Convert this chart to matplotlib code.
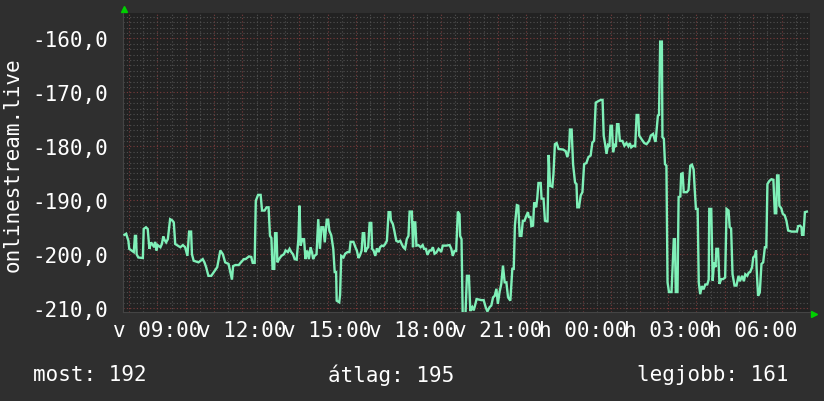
import matplotlib
matplotlib.use("Agg")
import matplotlib.pyplot as plt
from matplotlib.ticker import MultipleLocator, FuncFormatter

# time in hours since sunday 00:00
hours = [7.84, 7.90, 7.98, 8.01, 8.17, 8.21, 8.25, 8.27, 8.33, 8.49, 8.52, 8.60, 8.66, 8.72, 8.78,
         8.89, 8.92, 8.97, 9.01, 9.11, 9.16, 9.21, 9.26, 9.31, 9.37, 9.45, 9.52, 9.58, 9.63, 9.72,
         9.81, 9.90, 9.98, 10.06, 10.12, 10.19, 10.22, 10.28, 10.45, 10.60, 10.66, 10.72, 10.80, 10.90,
         10.99, 11.11, 11.22, 11.31, 11.39, 11.51, 11.63, 11.67, 11.75, 11.87, 11.93, 12.05, 12.11,
         12.23, 12.31, 12.36, 12.43, 12.47, 12.55, 12.64, 12.69, 12.78, 12.85, 12.92, 12.97, 13.02,
         13.06, 13.12, 13.15, 13.20, 13.23, 13.29, 13.37, 13.46, 13.52, 13.60, 13.66, 13.72, 13.78,
         13.84, 13.91, 13.97, 14.01, 14.05, 14.11, 14.17, 14.22, 14.28, 14.34, 14.40, 14.46, 14.49,
         14.54, 14.61, 14.67, 14.73, 14.78, 14.85, 14.90, 14.97, 15.02, 15.06, 15.13, 15.20, 15.25,
         15.30, 15.32, 15.41, 15.44, 15.48, 15.56, 15.62, 15.70, 15.77, 15.81, 15.91, 15.98, 16.03,
         16.09, 16.14, 16.20, 16.24, 16.29, 16.33, 16.38, 16.43, 16.48, 16.54, 16.57, 16.62, 16.68,
         16.74, 16.80, 16.85, 16.91, 16.97, 17.03, 17.09, 17.15, 17.21, 17.23, 17.30, 17.35, 17.42,
         17.49, 17.56, 17.61, 17.67, 17.73, 17.79, 17.85, 17.89, 17.97, 18.01, 18.04, 18.09, 18.13,
         18.20, 18.28, 18.35, 18.40, 18.46, 18.52, 18.59, 18.65, 18.71, 18.77, 18.83, 18.91, 18.97,
         19.00, 19.06, 19.18, 19.30, 19.36, 19.41, 19.47, 19.53, 19.59, 19.65, 19.67, 19.72, 19.76,
         19.86, 19.91, 19.98, 20.03, 20.10, 20.15, 20.21, 20.25, 20.33, 20.42, 20.50, 20.57, 20.63,
         20.71, 20.77, 20.83, 20.89, 20.95, 21.00, 21.06, 21.12, 21.18, 21.24, 21.30, 21.36, 21.44,
         21.51, 21.56, 21.60, 21.67, 21.72, 21.77, 21.83, 21.88, 21.94, 22.00, 22.06, 22.09, 22.15,
         22.18, 22.24, 22.28, 22.35, 22.39, 22.43, 22.51, 22.54, 22.61, 22.66, 22.71, 22.75, 22.79,
         22.84, 22.92, 22.96, 23.01, 23.07, 23.14, 23.30, 23.39, 23.45, 23.51, 23.54, 23.60, 23.65,
         23.72, 23.77, 23.80, 23.86, 23.92, 23.98, 24.04, 24.12, 24.19, 24.27, 24.33, 24.39, 24.45,
         24.55, 24.63, 24.69, 24.73, 24.78, 24.83, 24.88, 24.93, 24.97, 25.02, 25.06, 25.11, 25.16,
         25.20, 25.25, 25.30, 25.39, 25.46, 25.53, 25.60, 25.65, 25.70, 25.77, 25.84, 25.89, 25.95,
         25.98, 26.08, 26.16, 26.24, 26.33, 26.39, 26.47, 26.54, 26.56, 26.64, 26.68, 26.72, 26.78,
         26.80, 26.85, 26.89, 26.94, 26.98, 27.03, 27.12, 27.20, 27.24, 27.27, 27.33, 27.37, 27.43,
         27.46, 27.51, 27.55, 27.66, 27.72, 27.78, 27.84, 27.90, 27.94, 27.98, 28.04, 28.08, 28.13,
         28.19, 28.25, 28.31, 28.38, 28.43, 28.45, 28.52, 28.57, 28.62, 28.67, 28.70, 28.76, 28.81,
         28.87, 28.94, 29.01, 29.06, 29.13, 29.17, 29.22, 29.27, 29.34, 29.41, 29.48, 29.53, 29.61,
         29.67, 29.72, 29.79, 29.84, 29.89, 29.96, 30.00, 30.06, 30.10, 30.12, 30.17, 30.23, 30.29,
         30.35, 30.41, 30.46, 30.50, 30.57, 30.64, 30.71, 30.76, 30.81, 30.84, 30.89, 30.92, 30.99,
         31.04, 31.11, 31.17, 31.23, 31.35, 31.47, 31.54, 31.58, 31.65, 31.70, 31.72, 31.77, 31.82,
         31.89]
values = [-196.4, -196.2, -197.5, -199.0, -199.6, -196.6, -196.6, -200.0, -200.6, -200.7, -195.3, -195.0, -195.3, -199.0, -197.8,
          -198.7, -197.7, -199.3, -198.3, -198.7, -198.1, -196.7, -197.4, -197.8, -197.2, -193.5, -193.7, -194.1, -198.1, -198.4,
          -198.7, -198.3, -198.7, -200.3, -195.8, -195.8, -200.0, -201.2, -201.5, -200.9, -201.5, -202.4, -204.0, -204.0,
          -203.3, -202.4, -199.3, -200.0, -201.5, -201.8, -204.7, -202.2, -202.0, -202.0, -201.6, -200.9, -200.9,
          -200.4, -200.5, -201.6, -201.6, -190.1, -189.0, -189.0, -191.9, -191.9, -191.3, -191.3, -196.6, -197.0,
          -202.7, -202.7, -196.1, -196.1, -201.5, -200.9, -200.3, -200.0, -199.3, -199.6, -199.0, -199.6, -200.0,
          -200.9, -201.0, -197.2, -191.0, -198.4, -197.2, -197.2, -200.9, -199.3, -200.9, -198.7, -199.9, -200.9,
          -200.3, -200.0, -193.5, -199.0, -195.0, -195.0, -197.8, -193.6, -193.6, -195.6, -196.5, -199.0, -203.3,
          -203.3, -208.6, -208.9, -207.5, -200.3, -200.6, -199.9, -199.6, -199.6, -197.7, -197.7, -198.7, -199.3,
          -200.7, -200.2, -199.3, -196.1, -196.1, -199.6, -199.0, -198.7, -194.2, -194.2, -199.0, -199.3, -200.3,
          -198.9, -199.6, -198.7, -198.4, -198.5, -198.1, -197.5, -192.2, -192.2, -193.7, -194.4, -195.6, -197.5,
          -197.7, -197.5, -198.1, -198.7, -199.0, -197.2, -196.6, -192.1, -192.1, -198.7, -194.1, -194.1, -198.4,
          -198.3, -198.7, -198.3, -199.0, -199.0, -200.1, -199.3, -199.3, -198.7, -199.9, -199.7, -199.0, -199.3,
          -199.6, -198.4, -198.4, -198.3, -199.0, -200.3, -199.4, -199.4, -192.1, -192.6, -196.6, -197.2, -211.0,
          -211.0, -204.0, -204.0, -210.5, -209.8, -210.4, -209.2, -208.3, -208.4, -208.5, -208.5, -209.8, -210.6,
          -209.8, -209.5, -208.0, -207.7, -206.4, -209.2, -207.0, -205.5, -202.1, -205.2, -205.2, -208.0, -208.6,
          -202.7, -202.7, -194.7, -190.9, -191.0, -196.6, -196.6, -193.8, -193.8, -192.9, -192.2, -193.1, -193.1,
          -194.8, -194.7, -190.4, -191.3, -189.6, -186.8, -186.8, -189.7, -189.7, -193.8, -193.9, -193.9, -181.6,
          -187.3, -187.5, -185.1, -179.6, -179.4, -180.5, -180.6, -180.9, -182.0, -180.5, -176.9, -176.9, -183.3,
          -186.7, -187.0, -191.3, -191.3, -189.1, -188.5, -183.3, -183.1, -182.0, -181.7, -179.3, -179.0, -171.9,
          -171.6, -171.4, -171.4, -178.0, -179.6, -181.4, -179.8, -180.1, -176.2, -176.2, -181.1, -179.8, -180.1,
          -175.9, -175.9, -179.0, -179.0, -179.9, -179.4, -180.0, -179.4, -180.2, -179.9, -180.0, -174.2, -174.2,
          -178.0, -178.8, -179.4, -179.6, -179.0, -178.0, -177.7, -179.0, -179.0, -174.3, -174.2, -160.6, -160.6,
          -178.3, -178.6, -183.3, -183.6, -205.2, -207.0, -207.0, -197.2, -197.2, -207.0, -207.0, -189.4, -189.3,
          -185.1, -185.0, -188.5, -188.5, -188.1, -183.6, -183.4, -184.3, -188.2, -191.6, -191.6, -205.2, -207.4,
          -205.9, -206.5, -205.6, -205.6, -204.7, -191.6, -191.6, -204.9, -201.5, -202.4, -199.0, -199.0, -205.5,
          -204.6, -204.6, -204.3, -191.6, -191.9, -195.0, -195.2, -203.7, -205.8, -205.8, -204.0, -205.0, -204.0,
          -205.0, -203.7, -204.0, -203.4, -203.3, -202.4, -200.6, -200.3, -199.3, -202.7, -207.7, -207.1, -201.8,
          -201.5, -198.7, -198.7, -187.0, -186.4, -186.1, -186.2, -192.4, -192.4, -185.4, -185.4, -191.0, -191.5,
          -192.5, -192.8, -193.8, -195.6, -195.8, -195.8, -195.8, -194.8, -194.7, -195.0, -196.4, -196.4, -192.2,
          -192.1]

tick_hours = [9, 12, 15, 18, 21, 24, 27, 30]
tick_labels = ['v 09:00', 'v 12:00', 'v 15:00', 'v 18:00', 'v 21:00', 'h 00:00', 'h 03:00', 'h 06:00']

ylabel = 'onlinestream.live'
stats = ['most: 192', 'átlag: 195', 'legjobb: 161']

bg = '#2f2f2f'
canvas = '#222222'
line_col = '#7ff0b8'
major_col = '#7a3c3c'
minor_col = '#505050'
mono = 'DejaVu Sans Mono'

fig = plt.figure(figsize=(8.24, 4.02), dpi=100, facecolor=bg)
ax = fig.add_axes([123 / 824, 1 - 313 / 402, 687 / 824, 299 / 402], facecolor=canvas)

ax.plot(hours, values, color=line_col, lw=1.7, solid_joinstyle='miter', zorder=3)

ax.set_xlim(7.79, 32.0)
ax.set_ylim(-210.7, -155.3)

# grid: red every hour / 10 units, grey every half hour / 1 unit
ax.xaxis.set_major_locator(MultipleLocator(1))
ax.xaxis.set_minor_locator(MultipleLocator(0.5))
ax.yaxis.set_major_locator(MultipleLocator(10))
ax.yaxis.set_minor_locator(MultipleLocator(1))
ax.grid(which='minor', color=minor_col, lw=0.8, ls=(0, (1, 2)), zorder=1)
ax.grid(which='major', color=major_col, lw=0.8, ls=(0, (1, 2)), zorder=2)

lab = dict(zip(tick_hours, tick_labels))
ax.xaxis.set_major_formatter(FuncFormatter(lambda v, p: lab.get(int(round(v)), '')))
ax.yaxis.set_major_formatter(FuncFormatter(lambda v, p: f'{v:.1f}'.replace('.', ',')))
ax.tick_params(which='both', length=0, colors='white', labelsize=15)
ax.tick_params(axis='y', pad=11)
ax.tick_params(axis='x', pad=6)
for t in ax.get_xticklabels() + ax.get_yticklabels():
    t.set_family(mono)

for s in ['top', 'right']:
    ax.spines[s].set_visible(False)
for s in ['left', 'bottom']:
    ax.spines[s].set_color('#444444')

# axis arrows
ax.plot([0.002], [1.012], marker='^', color='#00d000', ms=5, transform=ax.transAxes, clip_on=False)
ax.plot([1.006], [-0.007], marker='>', color='#00d000', ms=5, transform=ax.transAxes, clip_on=False)

fig.text(13 / 824, 1 - 165 / 402, ylabel, rotation=90, ha='center', va='center',
         color='white', fontsize=15, family=mono)
for txt, x in zip(stats, [33, 328, 637]):
    fig.text(x / 824, 1 - 375 / 402, txt, ha='left', va='center', color='white',
             fontsize=15, family=mono)

fig.savefig('out.png', dpi=100, facecolor=bg)
